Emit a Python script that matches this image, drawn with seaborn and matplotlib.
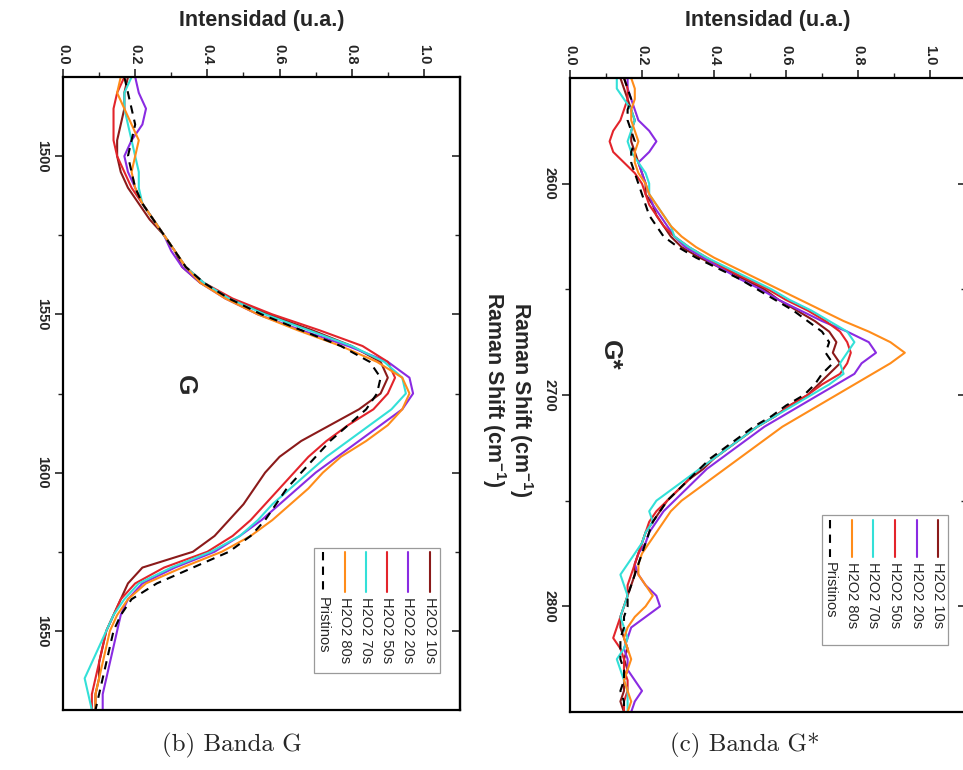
import numpy as np
import pandas as pd
import matplotlib
matplotlib.use("Agg")
import matplotlib.pyplot as plt
import seaborn as sns
from matplotlib.patches import Rectangle
from matplotlib.lines import Line2D

sns.set_theme(style="white")
plt.rcParams["font.family"] = ["Liberation Sans", "DejaVu Sans"]
plt.rcParams["mathtext.fontset"] = "custom"
plt.rcParams["mathtext.rm"] = "Liberation Sans:bold"
plt.rcParams["mathtext.bf"] = "Liberation Sans:bold"

# ---- data -------------------------------------------------------------
series_names = ["H2O2 10s", "H2O2 20s", "H2O2 50s", "H2O2 70s", "H2O2 80s", "Pristinos"]
series_colors = ["#8B1A1A", "#8A2BE2", "#E3242B", "#33E0D8", "#FF8C1A", "#000000"]

# G band
shift_g = [1475, 1480, 1485, 1490, 1495, 1500, 1505, 1510, 1515, 1520, 1525,
           1530, 1535, 1540, 1545, 1550, 1555, 1560, 1565, 1570, 1575, 1580,
           1585, 1590, 1595, 1600, 1605, 1610, 1615, 1620, 1625, 1630, 1635,
           1640, 1645, 1650, 1655, 1660, 1665, 1670, 1675]
g_10s = [0.18, 0.17, 0.17, 0.16, 0.15, 0.15, 0.16, 0.18, 0.21, 0.24, 0.28,
         0.31, 0.33, 0.38, 0.46, 0.57, 0.69, 0.80, 0.88, 0.90, 0.88,
         0.82, 0.74, 0.66, 0.60, 0.56, 0.53, 0.50, 0.46, 0.42, 0.36,
         0.22, 0.18, 0.16, 0.14, 0.12, 0.11, 0.10, 0.10, 0.09, 0.09]
g_20s = [0.20, 0.21, 0.23, 0.22, 0.19, 0.17, 0.18, 0.20, 0.22, 0.25, 0.28,
         0.30, 0.33, 0.38, 0.45, 0.54, 0.66, 0.79, 0.90, 0.96, 0.97,
         0.94, 0.88, 0.82, 0.76, 0.70, 0.65, 0.60, 0.55, 0.49, 0.42,
         0.31, 0.22, 0.18, 0.16, 0.15, 0.14, 0.13, 0.12, 0.11, 0.11]
g_50s = [0.17, 0.15, 0.14, 0.14, 0.14, 0.15, 0.17, 0.19, 0.22, 0.25, 0.28,
         0.31, 0.34, 0.39, 0.47, 0.58, 0.71, 0.83, 0.90, 0.92, 0.90,
         0.86, 0.79, 0.73, 0.68, 0.64, 0.60, 0.56, 0.52, 0.47, 0.40,
         0.28, 0.20, 0.16, 0.14, 0.12, 0.11, 0.10, 0.09, 0.08, 0.08]
g_70s = [0.19, 0.17, 0.17, 0.18, 0.19, 0.20, 0.21, 0.21, 0.22, 0.25, 0.28,
         0.31, 0.34, 0.39, 0.46, 0.56, 0.68, 0.80, 0.89, 0.94, 0.95,
         0.91, 0.85, 0.79, 0.73, 0.68, 0.63, 0.58, 0.54, 0.49, 0.41,
         0.30, 0.21, 0.17, 0.14, 0.12, 0.10, 0.08, 0.06, 0.07, 0.08]
g_80s = [0.16, 0.15, 0.17, 0.19, 0.21, 0.20, 0.19, 0.20, 0.22, 0.25, 0.28,
         0.31, 0.34, 0.38, 0.45, 0.54, 0.65, 0.77, 0.87, 0.94, 0.96,
         0.94, 0.90, 0.84, 0.77, 0.72, 0.68, 0.63, 0.58, 0.52, 0.44,
         0.33, 0.23, 0.18, 0.15, 0.13, 0.12, 0.11, 0.10, 0.09, 0.09]
g_pristine = [0.17, 0.18, 0.19, 0.20, 0.19, 0.18, 0.19, 0.20, 0.22, 0.25, 0.28,
              0.31, 0.34, 0.39, 0.46, 0.55, 0.66, 0.77, 0.85, 0.88, 0.87,
              0.84, 0.79, 0.74, 0.70, 0.66, 0.62, 0.59, 0.56, 0.52, 0.46,
              0.36, 0.26, 0.19, 0.16, 0.14, 0.13, 0.12, 0.11, 0.10, 0.09]

# G* band
shift_gs = [2550, 2555, 2560, 2565, 2570, 2575, 2580, 2585, 2590, 2595,
            2600, 2605, 2610, 2615, 2620, 2625, 2630, 2635, 2640, 2645,
            2650, 2655, 2660, 2665, 2670, 2675, 2680, 2685, 2690, 2695,
            2700, 2705, 2710, 2715, 2720, 2725, 2730, 2735, 2740, 2745,
            2750, 2755, 2760, 2765, 2770, 2775, 2780, 2785, 2790, 2795,
            2800, 2805, 2810, 2815, 2820, 2825, 2830, 2835, 2840, 2845, 2850]
gs_10s = [0.14, 0.15, 0.16, 0.17, 0.18, 0.17, 0.17, 0.18, 0.19, 0.20,
          0.21, 0.21, 0.23, 0.24, 0.26, 0.28, 0.31, 0.36, 0.42, 0.48,
          0.54, 0.58, 0.63, 0.68, 0.72, 0.74, 0.73, 0.75, 0.72, 0.69,
          0.66, 0.61, 0.57, 0.52, 0.48, 0.44, 0.40, 0.37, 0.33, 0.30,
          0.27, 0.25, 0.23, 0.21, 0.20, 0.19, 0.18, 0.18, 0.17, 0.16,
          0.15, 0.14, 0.14, 0.15, 0.16, 0.15, 0.16, 0.15, 0.15, 0.14, 0.15]
gs_20s = [0.16, 0.16, 0.17, 0.18, 0.19, 0.22, 0.24, 0.22, 0.19, 0.20,
          0.21, 0.22, 0.23, 0.25, 0.27, 0.29, 0.32, 0.37, 0.42, 0.47,
          0.53, 0.58, 0.64, 0.70, 0.77, 0.83, 0.85, 0.81, 0.79, 0.74,
          0.69, 0.64, 0.59, 0.54, 0.50, 0.46, 0.42, 0.38, 0.35, 0.32,
          0.29, 0.26, 0.24, 0.22, 0.21, 0.19, 0.18, 0.19, 0.21, 0.24,
          0.25, 0.21, 0.17, 0.16, 0.15, 0.16, 0.16, 0.18, 0.20, 0.18, 0.17]
gs_50s = [0.15, 0.16, 0.16, 0.15, 0.14, 0.12, 0.11, 0.12, 0.15, 0.18,
          0.20, 0.21, 0.22, 0.24, 0.26, 0.29, 0.33, 0.38, 0.43, 0.49,
          0.55, 0.60, 0.66, 0.71, 0.75, 0.77, 0.78, 0.77, 0.75, 0.70,
          0.66, 0.61, 0.57, 0.52, 0.48, 0.44, 0.40, 0.36, 0.33, 0.30,
          0.27, 0.24, 0.22, 0.21, 0.20, 0.19, 0.18, 0.17, 0.16, 0.16,
          0.15, 0.14, 0.13, 0.12, 0.14, 0.15, 0.15, 0.16, 0.16, 0.15, 0.15]
gs_70s = [0.13, 0.13, 0.15, 0.17, 0.18, 0.17, 0.16, 0.17, 0.19, 0.21,
          0.22, 0.22, 0.24, 0.26, 0.28, 0.29, 0.33, 0.38, 0.44, 0.50,
          0.56, 0.61, 0.67, 0.72, 0.77, 0.79, 0.77, 0.75, 0.76, 0.72,
          0.67, 0.62, 0.57, 0.52, 0.48, 0.44, 0.40, 0.36, 0.32, 0.28,
          0.24, 0.22, 0.23, 0.21, 0.20, 0.18, 0.16, 0.14, 0.15, 0.16,
          0.15, 0.14, 0.15, 0.16, 0.15, 0.13, 0.14, 0.15, 0.16, 0.16, 0.16]
gs_80s = [0.17, 0.18, 0.18, 0.17, 0.17, 0.18, 0.19, 0.18, 0.18, 0.19,
          0.21, 0.22, 0.24, 0.26, 0.28, 0.31, 0.35, 0.40, 0.46, 0.52,
          0.58, 0.64, 0.70, 0.76, 0.83, 0.89, 0.93, 0.89, 0.84, 0.79,
          0.74, 0.69, 0.64, 0.59, 0.55, 0.51, 0.47, 0.43, 0.39, 0.35,
          0.31, 0.28, 0.26, 0.24, 0.22, 0.20, 0.19, 0.19, 0.21, 0.23,
          0.21, 0.18, 0.16, 0.15, 0.16, 0.17, 0.16, 0.15, 0.16, 0.17, 0.16]
gs_pristine = [0.15, 0.16, 0.17, 0.16, 0.16, 0.17, 0.18, 0.17, 0.17, 0.18,
               0.19, 0.20, 0.21, 0.22, 0.24, 0.26, 0.30, 0.35, 0.41, 0.47,
               0.52, 0.57, 0.62, 0.66, 0.70, 0.72, 0.71, 0.73, 0.70, 0.68,
               0.65, 0.60, 0.56, 0.51, 0.47, 0.43, 0.39, 0.36, 0.33, 0.30,
               0.27, 0.25, 0.23, 0.22, 0.21, 0.20, 0.19, 0.18, 0.17, 0.16,
               0.16, 0.15, 0.15, 0.14, 0.14, 0.14, 0.15, 0.15, 0.14, 0.15, 0.15]

intensity_ticks = [0.0, 0.2, 0.4, 0.6, 0.8, 1.0]
g_ticks = [1500, 1550, 1600, 1650]
gs_ticks = [2600, 2700, 2800]


def long_table(shift, columns):
    frames = []
    for name, vals in zip(series_names, columns):
        frames.append(pd.DataFrame({"shift": shift, "intensity": vals, "serie": name}))
    return pd.concat(frames, ignore_index=True)


df_g = long_table(shift_g, [g_10s, g_20s, g_50s, g_70s, g_80s, g_pristine])
df_gs = long_table(shift_gs, [gs_10s, gs_20s, gs_50s, gs_70s, gs_80s, gs_pristine])

fig = plt.figure(figsize=(9.63, 7.7), dpi=100)
ax_g = fig.add_axes([63 / 963, 1 - 710 / 770, 397 / 963, 633 / 770])
ax_gs = fig.add_axes([570 / 963, 1 - 712 / 770, 396 / 963, 634 / 770])


def draw_panel(ax, df, ylim, yticks, minor_step, band, band_pos, leg, ylabel_xy):
    for name, color in zip(series_names, series_colors):
        sub = df[df["serie"] == name]
        sns.lineplot(data=sub, x="intensity", y="shift", orient="y", sort=False,
                     estimator=None, color=color, linewidth=1.5, ax=ax,
                     linestyle="--" if name == "Pristinos" else "-",
                     dashes=False)
    for line in ax.get_lines():
        if line.get_linestyle() == "--":
            line.set_dashes([4, 3])
    ax.set_xlim(0, 1.1)
    ax.set_ylim(*ylim)
    ax.set_facecolor("white")
    for sp in ax.spines.values():
        sp.set_visible(True)
        sp.set_color("black")
        sp.set_linewidth(1.6)

    # intensity axis along the top edge
    ax.xaxis.tick_top()
    ax.set_xticks(intensity_ticks)
    ax.set_xticks(np.arange(0.1, 1.1, 0.2), minor=True)
    ax.set_xticklabels([f"{t:.1f}" for t in intensity_ticks], rotation=-90,
                       fontsize=10.5, fontweight="bold")
    ax.tick_params(axis="x", which="major", direction="out", length=6, width=1.2,
                   top=True, bottom=False, pad=3)
    ax.tick_params(axis="x", which="minor", direction="out", length=3.5, width=1.0,
                   top=True, bottom=False)
    ax.set_xlabel("Intensidad (u.a.)", fontsize=15.5, fontweight="bold")
    ax.xaxis.set_label_position("top")
    ax.xaxis.set_label_coords(0.5, 1.09)
    ax.xaxis.label.set_va("center")

    # Raman shift axis along the left edge
    minor = np.arange(yticks[0] + minor_step, yticks[-1], 2 * minor_step)
    ax.set_yticks(yticks)
    ax.set_yticks(minor, minor=True)
    ax.set_yticklabels([str(t) for t in yticks], rotation=-90, va="center",
                       fontsize=10.5, fontweight="bold")
    ax.tick_params(axis="y", which="major", direction="out", length=6, width=1.2,
                   left=True, right=False, pad=4)
    ax.tick_params(axis="y", which="minor", direction="out", length=3.5, width=1.0,
                   left=True, right=False)
    ax.set_ylabel(r"Raman Shift (cm$^{-1}$)", rotation=-90, fontsize=15.5,
                  fontweight="bold", va="center", ha="center")
    ax.yaxis.set_label_coords(*ylabel_xy)

    sec = ax.secondary_yaxis("right")
    sec.set_yticks(yticks)
    sec.set_yticks(minor, minor=True)
    sec.tick_params(axis="y", which="major", direction="in", length=6, width=1.2,
                    labelright=False)
    sec.tick_params(axis="y", which="minor", direction="in", length=3.5, width=1.0,
                    labelright=False)
    sec.spines["right"].set_linewidth(1.6)

    ax.text(band_pos[0], band_pos[1], band, transform=ax.transAxes, rotation=-90,
            ha="center", va="center", fontsize=19, fontweight="bold")

    # legend drawn along the rotated layout
    bx0, by0, bx1, by1, xs, ly0, ly1, ty = leg
    ax.add_patch(Rectangle((bx0, by0), bx1 - bx0, by1 - by0, transform=ax.transAxes,
                           facecolor="white", edgecolor="#9a9a9a", linewidth=0.9,
                           zorder=5))
    for name, color, xx in zip(series_names, series_colors, xs):
        ln = Line2D([xx, xx], [ly0, ly1], transform=ax.transAxes, color=color,
                    linewidth=1.5, zorder=6,
                    linestyle="--" if name == "Pristinos" else "-")
        if name == "Pristinos":
            ln.set_dashes([4, 3])
        ax.add_line(ln)
        ax.text(xx, ty, name, transform=ax.transAxes, rotation=-90, ha="center",
                va="top", fontsize=10.5, zorder=6)


draw_panel(ax_g, df_g, (1675, 1475), g_ticks, 25, "G", (0.307, 0.513),
           (0.632, 0.058, 0.950, 0.256,
            [0.924, 0.869, 0.816, 0.763, 0.710, 0.655], 0.250, 0.186, 0.178),
           (1.085, 0.506))
draw_panel(ax_gs, df_gs, (2850, 2550), gs_ticks, 50, "G*", (0.101, 0.563),
           (0.636, 0.106, 0.955, 0.311,
            [0.929, 0.876, 0.821, 0.765, 0.712, 0.657], 0.303, 0.245, 0.237),
           (-0.125, 0.492))

fig.text(232 / 963, 1 - 745 / 770, "(b) Banda G", ha="center", va="center",
         fontsize=18, family=["cmr10", "DejaVu Serif"])
fig.text(745 / 963, 1 - 745 / 770, "(c) Banda G*", ha="center", va="center",
         fontsize=18, family=["cmr10", "DejaVu Serif"])

fig.savefig("out.png", dpi=100, facecolor="white")
